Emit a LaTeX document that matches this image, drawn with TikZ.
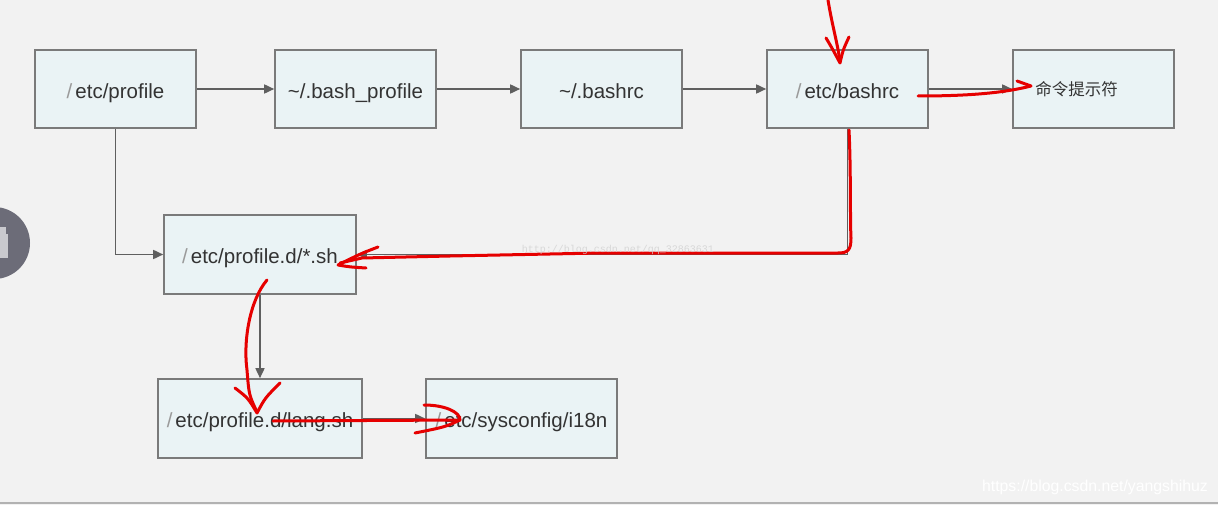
\documentclass[tikz,border=0pt]{standalone}
\usepackage{fontspec}
\setmainfont{Liberation Sans}
\newfontfamily\cjk{Noto Sans CJK SC}
\newfontfamily\wmono{Liberation Mono}
\usetikzlibrary{arrows.meta,calc}
\definecolor{bg}{HTML}{F2F2F2}
\definecolor{boxfill}{HTML}{EAF3F5}
\definecolor{boxline}{HTML}{7A7A7A}
\definecolor{connc}{HTML}{5F5F5F}
\definecolor{txt}{HTML}{333333}
\definecolor{slashc}{HTML}{9A9A9A}
\definecolor{inkc}{HTML}{E60000}
\definecolor{badge}{HTML}{6C6C78}
\definecolor{badgein}{HTML}{C9C9CE}
\newcommand{\lslash}{\textcolor{slashc}{/}\kern3pt}
\begin{document}
\begin{tikzpicture}[x=1pt,y=-1pt,
  box/.style={draw=boxline,fill=boxfill,line width=1.6pt,minimum width=161pt,minimum height=78pt,inner sep=0pt,text=txt,text height=22pt,text depth=3.3pt,font=\fontsize{20.5}{24}\selectfont},
  conn/.style={draw=connc,line width=1.6pt,-{Triangle[length=10pt,width=9pt]}},
  ink/.style={draw=inkc,line width=3pt,line cap=round,line join=round},
  wmark/.style={inner sep=0pt,text=#1}]
\useasboundingbox (0,0) rectangle (1218,505);
\begin{scope}
\clip (0,0) rectangle (1218,505);
\fill[bg] (0,0) rectangle (1218,505);
\draw[gray!60,line width=1.5pt] (0,503) -- (1218,503);
% side badge
\fill[badge] (-6,243) circle (36);
\fill[badgein] (-6,234) rectangle (8,258);
\fill[badgein] (0,227) rectangle (6,234);
\end{scope}

% boxes
\node[box] (prof) at (115.5,89) {\lslash etc/profile};
\node[box] (bprof) at (355.5,89) {\textasciitilde/.bash\_profile};
\node[box] (bashrc) at (601.5,89) {\textasciitilde/.bashrc};
\node[box] (ebashrc) at (847.5,89) {\lslash etc/bashrc};
\node[box,text height=14.5pt,text depth=2pt,font=\cjk\fontsize{16.5}{20}\selectfont] (prompt) at (1093.5,89) {命令提示符\hspace*{34pt}};
\node[box,minimum width=192pt,minimum height=79pt] (profd) at (260,254.5) {\lslash etc/profile.d/*.sh};
\node[box,minimum width=204pt,minimum height=79pt] (lang) at (260,418.5) {\lslash etc/profile.d/lang.sh};
\node[box,minimum width=191pt,minimum height=79pt] (i18n) at (521.5,418.5) {\lslash etc/sysconfig/i18n};

% gray connectors
\draw[conn] (prof) -- (bprof);
\draw[conn] (bprof) -- (bashrc);
\draw[conn] (bashrc) -- (ebashrc);
\draw[conn] (ebashrc) -- (prompt);
\draw[conn] (prof.south) |- (profd.west);
\draw[conn] (ebashrc.south) |- (profd.east);
\draw[conn] (profd.south) -- (lang.north);
\draw[conn] (lang.east) -- (i18n.west);

% red hand-drawn annotations
\coordinate (r1a) at (828,0);
\coordinate (r1b) at (840,62);
\draw[ink] (r1a) .. controls (832,25) and (838,45) .. (r1b);
\draw[ink] (826,38) .. controls (832,48) .. (840,63) .. controls (843,50) .. (849,37);

\coordinate (r2a) at (918,96);
\coordinate (r2b) at (1031,86);
\draw[ink] (r2a) .. controls (960,96) and (1000,94) .. (r2b);
\draw[ink] (1017,81) -- (1031,86);

\coordinate (r3a) at (849,130);
\coordinate (r3b) at (340,263);
\draw[ink] (r3a) .. controls (851,170) and (850,220) .. (851,238) .. controls (851,250) and (848,253) .. (838,253) -- (600,253) -- (450,256) -- (362,258) -- (r3b);
\draw[ink] (378,247) .. controls (360,254) .. (338,265) .. controls (350,267) .. (366,268);

\coordinate (r4a) at (267,280);
\coordinate (r4b) at (257,412);
\draw[ink] (r4a) .. controls (250,300) and (243,340) .. (247,370) .. controls (249,395) .. (r4b);
\draw[ink] (235,388) .. controls (248,398) .. (257,413) .. controls (265,398) .. (280,383);

\coordinate (r5a) at (273,421);
\coordinate (r5b) at (460,420);
\draw[ink] (r5a) -- (r5b);
\draw[ink] (424,405) .. controls (445,405) and (460,412) .. (460,420) .. controls (445,427) .. (415,433);

% watermarks
\node[wmark=black!18,font=\wmono\fontsize{10}{12}\selectfont,opacity=0.8] (wm1) at (618,250) {http://blog.csdn.net/qq\_32863631};
\node[wmark=white,font=\fontsize{15.8}{18}\selectfont] (wm2) at (1095,487) {https://blog.csdn.net/yangshihuz};
\end{tikzpicture}
\end{document}
